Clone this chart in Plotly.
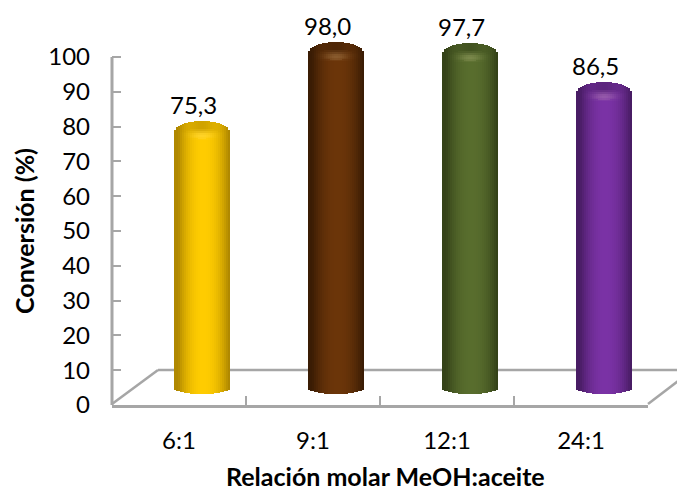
import numpy as np
import plotly.graph_objects as go

categories = ["6:1", "9:1", "12:1", "24:1"]
conversion = [75.3, 98.0, 97.7, 86.5]
value_labels = ["75,3", "98,0", "97,7", "86,5"]
y_ticks = list(range(0, 101, 10))

centre_colours = [(255, 204, 0), (107, 53, 9), (88, 109, 45), (122, 50, 165)]
edge_colours = [(176, 136, 0), (58, 28, 4), (52, 66, 24), (72, 28, 100)]

FONT = "Lato"
AXIS = "#a6a6a6"
PAGE = 8                       # default body margin of the page
W, H = 685 - PAGE, 492 - PAGE
L, R, TOP100, B = 112, 648, 57, 405
PX_X = (R - L) / 4.0           # px per category
PX_Y = (B - TOP100) / 100.0    # px per value unit

FLOOR = 17 / PX_Y
TOP_OFFSET = 8 / PX_Y
BOTTOM_ARC = 6 / PX_Y
DOME = 14 / PX_Y
RIM = 5 / PX_Y
DX = 23 / PX_X
HALF = 28 / PX_X
N = 28
BANDS = 10


def mix(a, b, f):
    f = float(np.clip(f, 0, 1))
    return tuple(a[i] + (b[i] - a[i]) * f for i in range(3))


def rgb(c):
    return "rgb(%d,%d,%d)" % tuple(int(round(min(255, max(0, x)))) for x in c)


def body_colour(i, t):
    shade = abs(t - 0.05) ** 2.2
    return mix(centre_colours[i], edge_colours[i], shade * 1.25)


def cap_colour(i, t, u):
    base = body_colour(i, t)
    spot = np.exp(-(t / 0.4) ** 2)
    light = mix(base, (255, 240, 190), 0.2 * spot)
    patch = np.exp(-(t / 0.55) ** 2)
    top_face = mix(base, edge_colours[i], 0.6 * patch)
    if u < 0.2:
        return mix(base, light, u / 0.2)
    if u < 0.32:
        return light
    return mix(light, top_face, min(1, (u - 0.32) / 0.3))


fig = go.Figure()
edges = np.linspace(-1, 1, N + 1)
for j in range(N):
    t = (edges[j] + edges[j + 1]) / 2
    arc = np.sqrt(max(0, 1 - t * t))
    dome = arc ** 0.8
    off = DX + edges[j] * HALF
    wid = 2 * HALF / N
    base = [FLOOR - BOTTOM_ARC * arc] * 4
    shoulder = [TOP_OFFSET + v for v in conversion]
    rim = [s - RIM * arc for s in shoulder]
    fig.add_trace(go.Bar(
        x=categories, y=[r - b for r, b in zip(rim, base)], base=base,
        offset=off, width=wid,
        marker=dict(color=[rgb(body_colour(i, t)) for i in range(4)], line_width=0),
        cliponaxis=False, hoverinfo="skip"))
    for k in range(BANDS):
        lo = [r + (s + DOME * dome - r) * k / BANDS for r, s in zip(rim, shoulder)]
        hi = [r + (s + DOME * dome - r) * (k + 1) / BANDS for r, s in zip(rim, shoulder)]
        fig.add_trace(go.Bar(
            x=categories, y=[h - l for h, l in zip(hi, lo)], base=lo,
            offset=off, width=wid,
            marker=dict(color=[rgb(cap_colour(i, t, (k + 0.5) / BANDS)) for i in range(4)], line_width=0),
            cliponaxis=False, hoverinfo="skip"))

annotations = [
    dict(x=categories[i], y=TOP_OFFSET + conversion[i] + DOME, xref="x", yref="y",
         text=value_labels[i], showarrow=False, xshift=DX * PX_X - 9, yshift=0, yanchor="bottom",
         font=dict(family=FONT, size=24, color="#000000"))
    for i in range(4)
]


def px(x):
    return (x - L) / (R - L)


def py(y):
    return (B - y) / (B - PAGE)


annotations += [
    dict(xref="paper", yref="paper", x=px(385), y=py(476), text="<b>Relación molar MeOH:aceite</b>",
         xanchor="center", yanchor="middle", showarrow=False, font=dict(family=FONT, size=25)),
    dict(xref="paper", yref="paper", x=px(24), y=py(231), text="<b>Conversión (%)</b>", textangle=-90,
         xanchor="center", yanchor="middle", showarrow=False, font=dict(family=FONT, size=25)),
]

line = dict(color=AXIS, width=2.5)
shapes = [
    dict(type="line", xref="paper", yref="y", x0=0, y0=0, x1=0, y1=100, line=dict(color=AXIS, width=3), layer="above"),
    dict(type="line", xref="paper", yref="paper", x0=px(112), y0=py(404), x1=px(158), y1=py(370), line=line, layer="below"),
    dict(type="line", xref="paper", yref="paper", x0=px(158), y0=py(370), x1=px(690), y1=py(370), line=line, layer="below"),
    dict(type="line", xref="paper", yref="paper", x0=px(648), y0=py(404), x1=px(690), y1=py(372), line=line, layer="below"),
]

fig.update_layout(
    width=W, height=H, autosize=False,
    margin=dict(l=L - PAGE, r=W + PAGE - R, t=0, b=H + PAGE - B, pad=0),
    paper_bgcolor="white", plot_bgcolor="rgba(0,0,0,0)",
    barmode="overlay", bargap=0, showlegend=False,
    annotations=annotations, shapes=shapes,
    font=dict(family=FONT, color="#000000"),
    xaxis=dict(type="category", categoryorder="array", categoryarray=categories,
               range=[-0.5, 3.5], tickson="boundaries", ticks="inside", ticklen=9, tickwidth=2,
               tickcolor=AXIS, showline=True, linecolor=AXIS, linewidth=3, showgrid=False,
               ticklabelstandoff=12, tickfont=dict(family=FONT, size=24)),
    yaxis=dict(range=[0, (B - PAGE) / PX_Y], tickvals=y_ticks, ticks="inside", ticklen=9, tickwidth=2,
               tickcolor=AXIS, showline=False, showgrid=False, zeroline=False,
               ticklabelstandoff=21, tickfont=dict(family=FONT, size=24)),
)
fig.write_html("out.html", config={"displayModeBar": False})
